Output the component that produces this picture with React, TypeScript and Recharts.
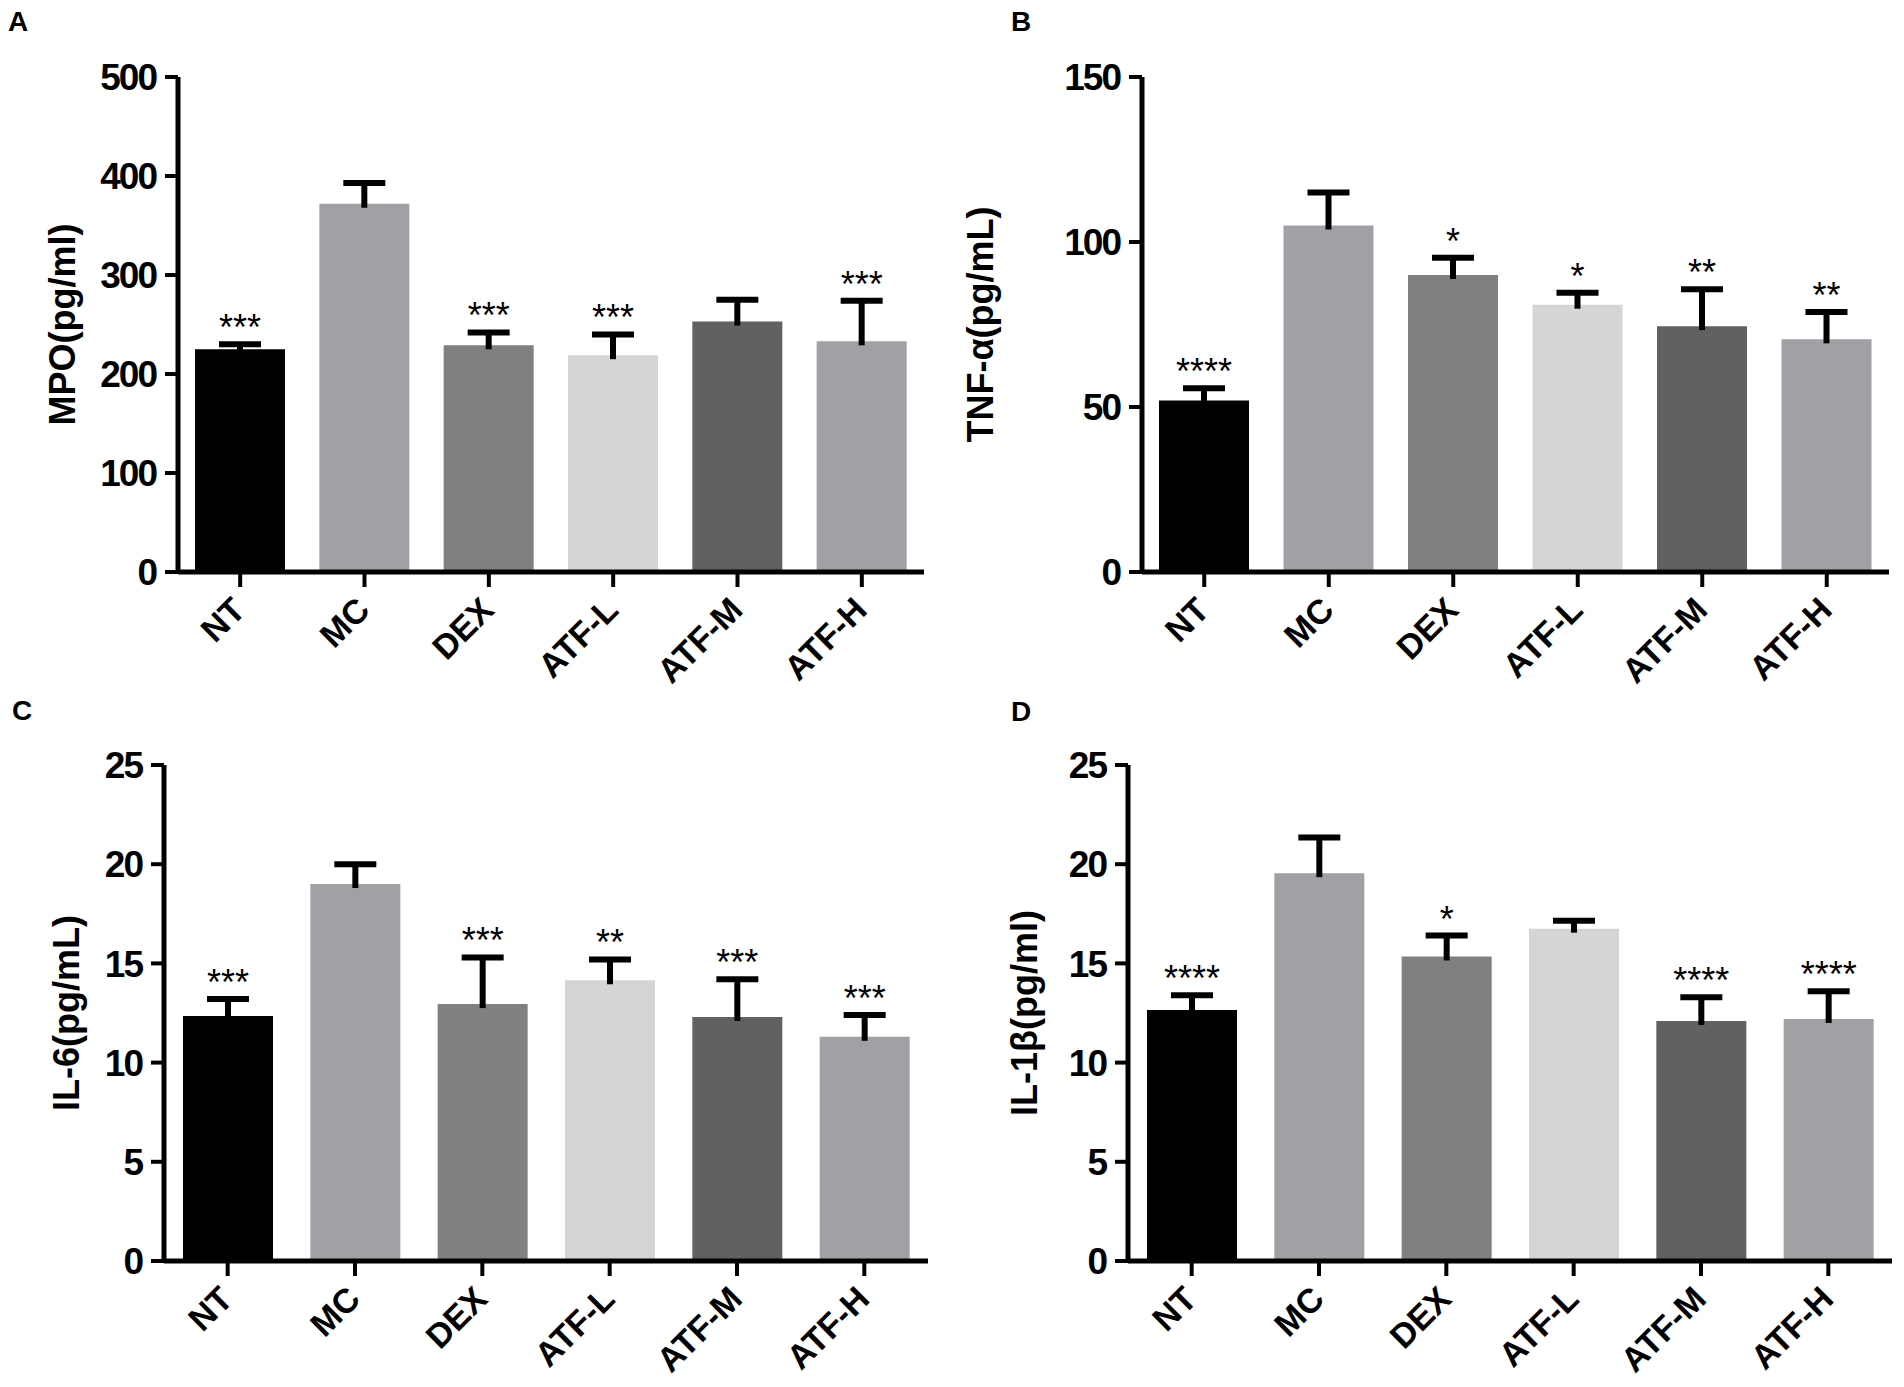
import { BarChart, Bar, XAxis, YAxis, Cell } from "recharts";

const groups = ["NT", "MC", "DEX", "ATF-L", "ATF-M", "ATF-H"];
const barColors = ["#000000", "#a1a1a5", "#808080", "#d5d5d5", "#616161", "#a1a1a5"];

const mpoMean = [225, 372, 229, 219, 253, 233];
const mpoErr = [5, 21, 13, 21, 22, 41];
const mpoSig = ["***", "", "***", "***", "", "***"];
const mpoTicks = [0, 100, 200, 300, 400, 500];

const tnfMean = [52, 105, 90, 81, 74.5, 70.5];
const tnfErr = [3.7, 10, 5.2, 3.6, 11.2, 8.3];
const tnfSig = ["****", "", "*", "*", "**", "**"];
const tnfTicks = [0, 50, 100, 150];

const il6Mean = [12.35, 19.0, 12.95, 14.15, 12.3, 11.3];
const il6Err = [0.85, 1.0, 2.35, 1.05, 1.9, 1.1];
const il6Sig = ["***", "", "***", "**", "***", "***"];

const il1bMean = [12.65, 19.55, 15.35, 16.75, 12.1, 12.2];
const il1bErr = [0.75, 1.8, 1.05, 0.4, 1.2, 1.4];
const il1bSig = ["****", "", "*", "", "****", "****"];
const ilTicks = [0, 5, 10, 15, 20, 25];

const FONT = '"Liberation Sans", Arial, sans-serif';

function rows(mean: number[], err: number[], sig: string[]) {
  return groups.map((g, i) => ({ group: g, mean: mean[i], err: err[i], sig: sig[i] }));
}

// stacked "err" bar: draws the upper error bar and the significance stars above the cap
function ErrCap(props: any) {
  const { x, y, width, height, payload } = props;
  const cx = x + width / 2;
  return (
    <g>
      <line x1={cx} x2={cx} y1={y + height + 4} y2={y} stroke="#000" strokeWidth={6} />
      <line x1={cx - 21} x2={cx + 21} y1={y} y2={y} stroke="#000" strokeWidth={6} />
      {payload && payload.sig ? (
        <text x={cx} y={y - 4} textAnchor="middle" fontFamily={FONT} fontSize={36} fill="#000">
          {payload.sig}
        </text>
      ) : null}
    </g>
  );
}

function GroupTick({ x, y, payload }: any) {
  return (
    <text
      x={0}
      y={0}
      transform={`translate(${x + 7},${y + 25}) rotate(-45)`}
      textAnchor="end"
      fontFamily={FONT}
      fontWeight="bold"
      fontSize={34}
      fill="#000"
    >
      {payload.value}
    </text>
  );
}

interface PanelProps {
  data: { group: string; mean: number; err: number; sig: string }[];
  ticks: number[];
  yLabel: string;
  left: number;
  top: number;
  width: number;
  height: number;
  plotL: number;
  plotR: number;
  plotT: number;
  plotB: number;
  labelX: number;
}

function Panel(p: PanelProps) {
  const max = p.ticks[p.ticks.length - 1];
  return (
    <div style={{ position: "absolute", left: p.left, top: p.top }}>
      <BarChart
        width={p.width}
        height={p.height}
        data={p.data}
        margin={{ top: p.plotT - p.top, right: p.left + p.width - p.plotR, bottom: 0, left: 0 }}
      >
        <XAxis
          dataKey="group"
          height={p.top + p.height - p.plotB}
          interval={0}
          tick={<GroupTick />}
          tickSize={15}
          tickMargin={0}
          axisLine={{ stroke: "#000", strokeWidth: 5 }}
          tickLine={{ stroke: "#000", strokeWidth: 4 }}
        />
        <YAxis
          type="number"
          domain={[0, max]}
          ticks={p.ticks}
          interval={0}
          width={p.plotL - p.left}
          tickSize={13}
          tickMargin={9}
          axisLine={{ stroke: "#000", strokeWidth: 5 }}
          tickLine={{ stroke: "#000", strokeWidth: 4 }}
          tick={{ fill: "#000", fontSize: 37, fontWeight: "bold", fontFamily: FONT, letterSpacing: -2 }}
          label={(lp: any) => {
            const vb = lp.viewBox || {};
            const cy = vb.y + vb.height / 2;
            const lx = p.labelX - p.left;
            return (
              <text
                x={lx}
                y={cy}
                transform={`rotate(-90, ${lx}, ${cy})`}
                textAnchor="middle"
                fontFamily={FONT}
                fontWeight="bold"
                fontSize={36}
                fill="#000"
              >
                {p.yLabel}
              </text>
            );
          }}
        />
        <Bar dataKey="mean" stackId="s" barSize={90} isAnimationActive={false}>
          {p.data.map((_, i) => (
            <Cell key={i} fill={barColors[i]} />
          ))}
        </Bar>
        <Bar
          dataKey="err"
          stackId="s"
          barSize={90}
          fill="none"
          isAnimationActive={false}
          shape={(sp: any) => <ErrCap {...sp} />}
        />
      </BarChart>
    </div>
  );
}

const panelLetters = [
  { t: "A", x: 8, y: 31 },
  { t: "B", x: 1011, y: 31 },
  { t: "C", x: 12, y: 720 },
  { t: "D", x: 1011, y: 721 },
];

export default function App() {
  return (
    <div style={{ position: "absolute", left: 0, top: 0, width: 1904, height: 1387, background: "#fff" }}>
      <svg width={1904} height={1387} style={{ position: "absolute", left: 0, top: 0 }}>
        {panelLetters.map((l) => (
          <text key={l.t} x={l.x} y={l.y} fontFamily={FONT} fontWeight="bold" fontSize={28} fill="#000">
            {l.t}
          </text>
        ))}
      </svg>
      <Panel
        data={rows(mpoMean, mpoErr, mpoSig)}
        ticks={mpoTicks}
        yLabel="MPO(pg/ml)"
        left={0}
        top={0}
        width={952}
        height={690}
        plotL={178}
        plotR={924}
        plotT={77}
        plotB={572}
        labelX={75}
      />
      <Panel
        data={rows(tnfMean, tnfErr, tnfSig)}
        ticks={tnfTicks}
        yLabel="TNF-α(pg/mL)"
        left={952}
        top={0}
        width={952}
        height={690}
        plotL={1142}
        plotR={1889}
        plotT={77}
        plotB={572}
        labelX={993}
      />
      <Panel
        data={rows(il6Mean, il6Err, il6Sig)}
        ticks={ilTicks}
        yLabel="IL-6(pg/mL)"
        left={0}
        top={690}
        width={952}
        height={697}
        plotL={164}
        plotR={928}
        plotT={765}
        plotB={1261}
        labelX={79}
      />
      <Panel
        data={rows(il1bMean, il1bErr, il1bSig)}
        ticks={ilTicks}
        yLabel="IL-1β(pg/ml)"
        left={952}
        top={690}
        width={952}
        height={697}
        plotL={1128}
        plotR={1892}
        plotT={765}
        plotB={1261}
        labelX={1037}
      />
    </div>
  );
}
